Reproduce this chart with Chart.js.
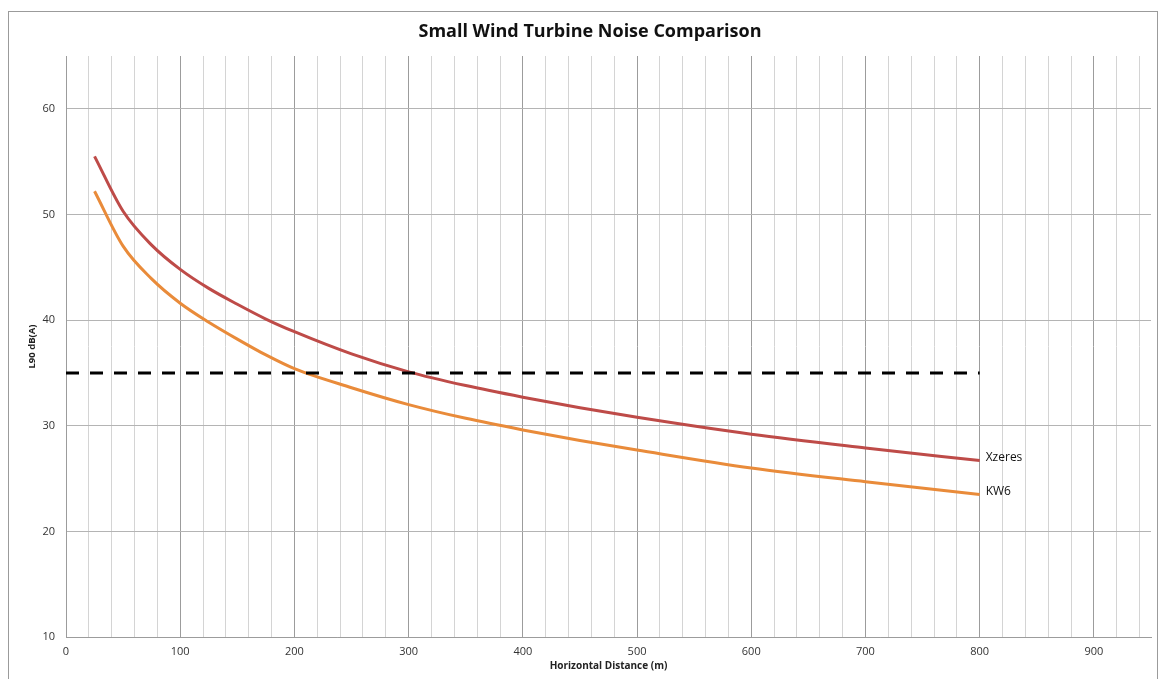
<!DOCTYPE html>
<html>
<head>
<meta charset="utf-8">
<title>Small Wind Turbine Noise Comparison</title>
<script src="https://cdn.jsdelivr.net/npm/chart.js@4.4.1/dist/chart.umd.min.js"></script>
<style>
  html, body { margin: 0; padding: 0; background: #fff; }
  canvas { display: block; }
</style>
</head>
<body>
<canvas id="chart" width="1160" height="679"></canvas>
<script>
const titleText = "Small Wind Turbine Noise Comparison"

// distances in metres, L90 levels in dB(A)
const distances = [25, 50, 75, 100, 125, 150, 175, 200, 250, 300, 350, 400, 450, 500, 600, 700, 800]
const xzeres = [55.5, 50.3, 47.1, 44.8, 43.0, 41.5, 40.1, 38.9, 36.8, 35.1, 33.8, 32.7, 31.7, 30.8, 29.2, 27.9, 26.7]
const kw6 = [52.2, 47.0, 43.9, 41.6, 39.8, 38.2, 36.7, 35.4, 33.6, 32.0, 30.7, 29.6, 28.6, 27.7, 26.0, 24.7, 23.5]

// 35 dB(A) limit line
const limitDistances = [0, 800]
const limitLevels = [35, 35]

const yTicks = [10, 20, 30, 40, 50, 60]
const xLabels = [0, 100, 200, 300, 400, 500, 600, 700, 800, 900]

// minor vertical grid every 20 m
const xGrid = []
for (let v = 0; v <= 940; v += 20) xGrid.push(v)

const font = "'Open Sans', 'DejaVu Sans', sans-serif"

const toPoints = (xs, ys) => xs.map((x, i) => ({ x, y: ys[i] }))

const decorations = {
  id: "decorations",
  beforeDraw(chart) {
    const ctx = chart.ctx
    ctx.save()
    ctx.strokeStyle = "#9b9b9b"
    ctx.lineWidth = 1
    ctx.strokeRect(8.5, 11.5, 1149, 700)
    ctx.restore()
  },
  afterDraw(chart) {
    const ctx = chart.ctx
    ctx.save()
    ctx.fillStyle = "#111"
    ctx.font = "bold 18px " + font
    ctx.textAlign = "center"
    ctx.textBaseline = "middle"
    ctx.fillText(titleText, 590, 32)

    // series names at the end of each curve
    ctx.font = "12px " + font
    ctx.textAlign = "left"
    chart.data.datasets.forEach((ds, i) => {
      if (!ds.endLabel) return
      const pts = chart.getDatasetMeta(i).data
      const last = pts[pts.length - 1]
      ctx.fillText(ds.label, last.x + 6, last.y - 3)
    })
    ctx.restore()
  },
}

new Chart(document.getElementById("chart"), {
  type: "line",
  data: {
    datasets: [
      {
        label: "Limit",
        data: toPoints(limitDistances, limitLevels),
        borderColor: "#000",
        borderWidth: 3,
        borderDash: [13, 11],
        pointRadius: 0,
      },
      {
        label: "Xzeres",
        endLabel: true,
        data: toPoints(distances, xzeres),
        borderColor: "#BE4B48",
        borderWidth: 3,
        pointRadius: 0,
        cubicInterpolationMode: "monotone",
      },
      {
        label: "KW6",
        endLabel: true,
        data: toPoints(distances, kw6),
        borderColor: "#E98B3A",
        borderWidth: 3,
        pointRadius: 0,
        cubicInterpolationMode: "monotone",
      },
    ],
  },
  options: {
    responsive: false,
    animation: false,
    events: [],
    layout: { padding: { top: 56, right: 9, left: 0, bottom: 0 } },
    plugins: {
      legend: { display: false },
      tooltip: { enabled: false },
      title: { display: false },
    },
    scales: {
      x: {
        type: "linear",
        min: 0,
        max: 950,
        bounds: "data",
        afterBuildTicks: (s) => { s.ticks = xGrid.map((v) => ({ value: v })) },
        afterFit: (s) => { s.height = 42 },
        grid: {
          color: (c) => (c.tick && c.tick.value % 100 === 0 ? "#9c9c9c" : "#d4d4d4"),
          drawTicks: false,
          lineWidth: 1,
        },
        border: { color: "#9c9c9c" },
        ticks: {
          autoSkip: false,
          maxRotation: 0,
          padding: 8,
          color: "#333",
          font: { family: font, size: 11 },
          callback: (v) => (xLabels.includes(v) ? String(v) : ""),
        },
        title: {
          display: true,
          text: "Horizontal Distance (m)",
          color: "#222",
          font: { family: font, size: 10, weight: "bold" },
          padding: { top: 0, bottom: 7 },
        },
      },
      y: {
        type: "linear",
        min: 10,
        max: 65,
        bounds: "data",
        afterBuildTicks: (s) => { s.ticks = yTicks.map((v) => ({ value: v })) },
        afterFit: (s) => { s.width = 66 },
        grid: { color: "#b4b4b4", drawTicks: false, lineWidth: 1 },
        border: { color: "#9c9c9c" },
        ticks: {
          padding: 11,
          color: "#333",
          font: { family: font, size: 11 },
        },
        title: {
          display: true,
          text: "L90 dB(A)",
          color: "#222",
          font: { family: font, size: 9.5, weight: "bold" },
          padding: { top: 27, bottom: 0 },
        },
      },
    },
  },
  plugins: [decorations],
})
</script>
</body>
</html>
